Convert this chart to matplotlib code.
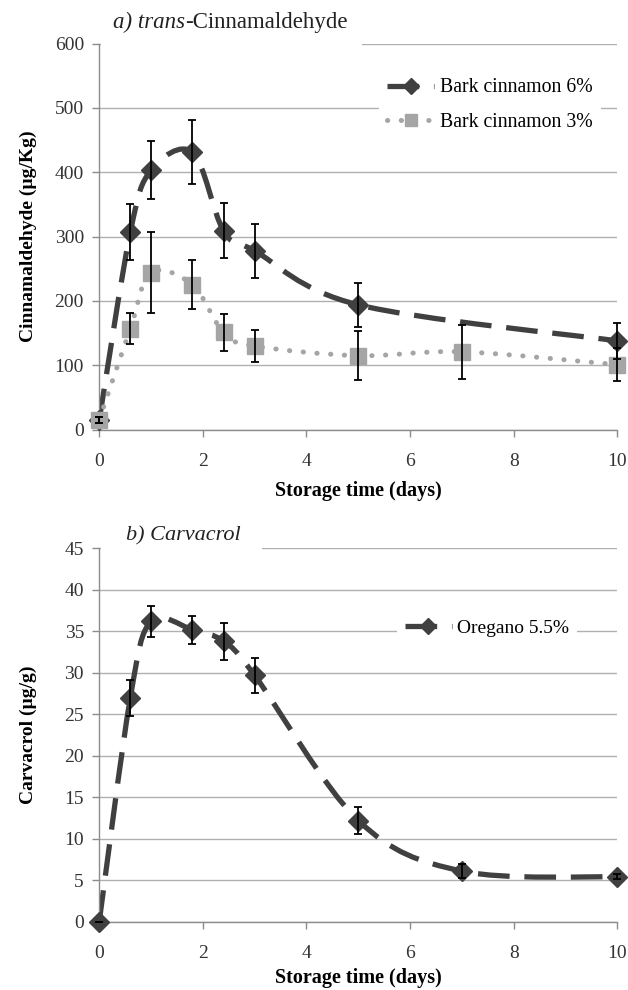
"""Cinnamaldehyde and carvacrol content over storage time (two stacked panels)."""

import matplotlib
matplotlib.use("Agg")
import matplotlib.pyplot as plt
import numpy as np
from matplotlib.lines import Line2D
from matplotlib.patches import PathPatch, Rectangle
from matplotlib.path import Path

plt.rcParams['font.family'] = ['Liberation Serif', 'DejaVu Serif']

# ---- data ----
days_6 = [0, 0.6, 1, 1.8, 2.4, 3, 5, 10]
cinn_6 = [15, 307, 403, 431, 309, 278, 194, 138]
cinn_6_err = [5, 44, 45, 50, 43, 42, 34, 28]

days_3 = [0, 0.6, 1, 1.8, 2.4, 3, 5, 7, 10]
cinn_3 = [15, 157, 244, 225, 151, 130, 115, 121, 101]
cinn_3_err = [5, 24, 63, 38, 28, 25, 38, 42, 26]

days_or = [0, 0.6, 1, 1.8, 2.4, 3, 5, 7, 10]
carv = [0, 27.0, 36.2, 35.2, 33.8, 29.7, 12.2, 6.1, 5.4]
carv_err = [0, 2.2, 1.9, 1.7, 2.2, 2.1, 1.6, 0.8, 0.3]

x_ticks = [0, 2, 4, 6, 8, 10]

DARK = '#404040'
LIGHT = '#a5a5a5'
GRID = '#b0b0b0'


def smooth_path(x, y):
    # excel-style smoothed line: cubic bezier segments through each point
    p = np.column_stack([x, y]).astype(float)
    n = len(p)
    verts = [p[0]]
    codes = [Path.MOVETO]
    for i in range(n - 1):
        p_prev = p[i - 1] if i > 0 else p[i]
        p_next2 = p[i + 2] if i + 2 < n else p[i + 1]
        c1 = p[i] + (p[i + 1] - p_prev) / 6.0
        c2 = p[i + 1] - (p_next2 - p[i]) / 6.0
        verts += [c1, c2, p[i + 1]]
        codes += [Path.CURVE4] * 3
    return Path(verts, codes)


def style_axes(ax, ymax, ystep):
    ax.set_xlim(0, 10)
    ax.set_ylim(0, ymax)
    ax.set_xticks(x_ticks)
    ax.set_yticks(np.arange(0, ymax + 1, ystep))
    ax.set_axisbelow(True)
    ax.grid(axis='y', color=GRID, linewidth=1.0)
    for s in ['top', 'right']:
        ax.spines[s].set_visible(False)
    for s in ['left', 'bottom']:
        ax.spines[s].set_color('#8c8c8c')
        ax.spines[s].set_linewidth(1.0)
    ax.tick_params(direction='out', length=5, width=1, color='#8c8c8c',
                   labelsize=14, labelcolor='#333333')
    ax.tick_params(axis='x', pad=12)
    ax.tick_params(axis='y', pad=6)


def draw_series(ax, x, y, err, color, marker, ms, lw, ls, cap, label):
    patch = PathPatch(smooth_path(x, y), fill=False, edgecolor=color, zorder=2,
                      linewidth=lw, linestyle=ls, capstyle=cap)
    ax.add_patch(patch)
    # markers at the axis edges stay whole, like in the original
    ax.plot(x, y, linestyle='none', marker=marker, ms=ms, color=color, zorder=3,
            clip_on=False)
    ax.errorbar(x, y, yerr=err, fmt='none', ecolor='black', elinewidth=1.3,
                capsize=3, capthick=1.3, zorder=4, clip_on=False)
    return Line2D([], [], color=color, marker=marker, ms=ms * 0.8, label=label,
                  linewidth=lw, linestyle=ls, dash_capstyle=cap)


dash_ls = (0, (6, 2.8))
dot_ls = (0, (0.05, 2.7))

fig = plt.figure(figsize=(6.28, 9.9), dpi=100)
ax1 = fig.add_axes([0.158, 0.566, 0.825, 0.390])
ax2 = fig.add_axes([0.158, 0.069, 0.825, 0.377])

# ---- panel a ----
style_axes(ax1, 600, 100)
h6 = draw_series(ax1, days_6, cinn_6, cinn_6_err, DARK, 'D', 10, 3.8, dash_ls, 'butt',
                 'Bark cinnamon 6%')
h3 = draw_series(ax1, days_3, cinn_3, cinn_3_err, LIGHT, 's', 11, 3.6, dot_ls, 'round',
                 'Bark cinnamon 3%')
ax1.add_patch(Rectangle((0.004, 0.97), 0.504, 0.08, transform=ax1.transAxes,
                        facecolor='white', edgecolor='none', zorder=1, clip_on=False))
t1 = ax1.text(0.027, 1.055, 'a) trans', transform=ax1.transAxes, style='italic',
              fontsize=16.5, va='center', ha='left', color='#222222')
ax1.annotate('-Cinnamaldehyde', xy=(1, 0.5), xycoords=t1, va='center', ha='left',
             fontsize=16.5, color='#222222')
ax1.legend(handles=[h6, h3], loc='upper left', bbox_to_anchor=(0.54, 0.93),
           borderaxespad=0, frameon=True, fancybox=False, framealpha=1,
           edgecolor='none', facecolor='white', fontsize=14.2,
           handlelength=2.4, handletextpad=0.3, labelspacing=0.8)
ax1.set_xlabel('Storage time (days)', fontsize=14.5, fontweight='bold')
ax1.xaxis.set_label_coords(0.5, -0.133)
ax1.set_ylabel('Cinnamaldehyde (µg/Kg)', fontsize=14, fontweight='bold')
ax1.yaxis.set_label_coords(-0.12, 0.5)

# ---- panel b ----
style_axes(ax2, 45, 5)
ho = draw_series(ax2, days_or, carv, carv_err, DARK, 'D', 10, 3.8, dash_ls, 'butt',
                 'Oregano 5.5%')
ax2.add_patch(Rectangle((0.004, 0.97), 0.31, 0.06, transform=ax2.transAxes,
                        facecolor='white', edgecolor='none', zorder=1, clip_on=False))
ax2.text(0.052, 1.033, 'b) Carvacrol', transform=ax2.transAxes, style='italic',
         fontsize=16, va='center', ha='left', color='#222222')
ax2.legend(handles=[ho], loc='upper left', bbox_to_anchor=(0.575, 0.83),
           borderaxespad=0, frameon=True, fancybox=False, framealpha=1,
           edgecolor='none', facecolor='white', fontsize=14,
           handlelength=2.4, handletextpad=0.3)
ax2.set_xlabel('Storage time (days)', fontsize=14.5, fontweight='bold')
ax2.xaxis.set_label_coords(0.5, -0.125)
ax2.set_ylabel('Carvacrol (µg/g)', fontsize=14, fontweight='bold')
ax2.yaxis.set_label_coords(-0.12, 0.5)

fig.savefig('out.png', dpi=100, facecolor='white')
